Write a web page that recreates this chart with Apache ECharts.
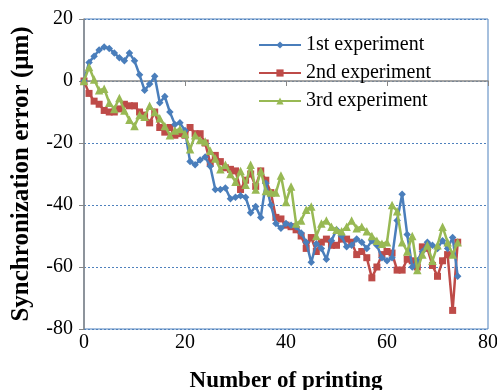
<!DOCTYPE html>
<html>
<head>
<meta charset="utf-8">
<script src="https://cdn.jsdelivr.net/npm/echarts@6/dist/echarts.min.js"></script>
<style>
  html, body { margin: 0; padding: 0; background: #fff; }
  #main { width: 497px; height: 390px; }
</style>
</head>
<body>
<div id="main"></div>
<script>
// printing number (x)
var printing = [0, 1, 2, 3, 4, 5, 6, 7, 8, 9, 10, 11, 12, 13, 14, 15, 16, 17, 18, 19,
  20, 21, 22, 23, 24, 25, 26, 27, 28, 29, 30, 31, 32, 33, 34, 35, 36, 37, 38, 39,
  40, 41, 42, 43, 44, 45, 46, 47, 48, 49, 50, 51, 52, 53, 54, 55, 56, 57, 58, 59,
  60, 61, 62, 63, 64, 65, 66, 67, 68, 69, 70, 71, 72, 73, 74]

// synchronization error (um)
var exp1 = [0, 6, 8, 10, 11, 10.5, 9, 7.5, 6.5, 9, 6.5, 2, -3, -1, 1.5, -7, -5, -10, -14, -13.5,
  -16, -26, -27, -25.5, -24.5, -27.5, -35, -35, -34.5, -38, -37.5, -37, -37.5, -42.5, -40.5, -44, -33, -40, -46, -47.5,
  -46, -46.5, -47, -49, -52, -58.5, -52.5, -54, -57.5, -51.5, -48, -50, -53.5, -53, -51, -52, -54, -51.5, -53, -57,
  -58, -57, -45, -36.5, -49.5, -60, -58, -55, -52, -53, -54, -51.5, -54, -50.5, -63]
var exp2 = [0, -4, -6.5, -7.5, -9.5, -10, -10, -9, -7.5, -8, -8, -10, -11, -13.5, -10, -15, -16.5, -15, -17.5, -17,
  -17.5, -15, -17, -17, -20, -26.5, -24, -26, -28, -28.5, -29, -35, -32, -30, -34, -29, -32, -36, -44, -44.5,
  -46.5, -47, -48, -50, -54, -50.5, -55, -52, -51, -53, -53, -51, -51, -52, -56, -55, -57, -63.5, -60, -56,
  -55, -55.5, -61, -61, -57.5, -58, -60, -53.5, -54, -59.5, -63, -58, -56, -74, -52]
var exp3 = [0, 4.5, 0.5, -3, -2.5, -7, -9, -5.5, -9.5, -12.5, -14.5, -11, -11.5, -8, -10, -12, -14.5, -17.5, -16, -15.5,
  -17, -22, -17.5, -19, -19.5, -22.5, -25, -28.5, -27, -30, -32.5, -29, -33.5, -27, -35, -29, -35.5, -36, -36, -30.5,
  -39, -34, -46, -45, -41.5, -40.5, -50, -46, -45, -47, -48, -48.5, -47, -45, -47.5, -47, -48.5, -50, -51.5, -52.5,
  -52, -40, -42, -52, -55, -50, -61, -56, -53, -58, -53, -47, -52, -56, -52]

var seriesNames = ['1st experiment', '2nd experiment', '3rd experiment']
var xTicks = [0, 20, 40, 60, 80]
var yTicks = [-80, -60, -40, -20, 0, 20]

function pairs(ys) {
  return printing.map(function (x, i) { return [x, ys[i]] })
}

var serif = '"Liberation Serif", "Times New Roman", serif'
var chart = echarts.init(document.getElementById('main'))

var option = {
  animation: false,
  grid: {
    left: 84, top: 19, right: 9, bottom: 61,
    outerBoundsMode: 'none',
    show: true,
    borderColor: '#4F81BD',
    borderWidth: 1
  },
  legend: {
    orient: 'vertical',
    left: 253,
    top: 30,
    itemWidth: 42,
    itemHeight: 9,
    itemGap: 8,
    textStyle: { fontFamily: serif, fontSize: 20, color: '#000' },
    data: seriesNames
  },
  xAxis: {
    type: 'value',
    min: xTicks[0],
    max: xTicks[xTicks.length - 1],
    interval: 20,
    name: 'Number of printing',
    nameLocation: 'middle',
    nameGap: 41,
    nameTextStyle: { fontFamily: serif, fontSize: 23, fontWeight: 'bold', color: '#000' },
    axisLine: { lineStyle: { color: '#868686', width: 1.5 } },
    axisTick: { show: true, length: 5, lineStyle: { color: '#868686' } },
    axisLabel: { fontFamily: serif, fontSize: 20, color: '#000', margin: 4 },
    splitLine: { show: false }
  },
  yAxis: {
    type: 'value',
    min: yTicks[0],
    max: yTicks[yTicks.length - 1],
    interval: 20,
    name: 'Synchronization error (μm)',
    nameLocation: 'middle',
    nameGap: 50,
    nameTextStyle: { fontFamily: serif, fontSize: 25, fontWeight: 'bold', color: '#000' },
    axisLine: { show: true, lineStyle: { color: '#868686', width: 1.5 } },
    axisTick: { show: true, length: 5, lineStyle: { color: '#868686' } },
    axisLabel: { fontFamily: serif, fontSize: 20, color: '#000', margin: 11 },
    splitLine: { show: true, lineStyle: { color: '#4F81BD', type: [2, 2], width: 1 } }
  },
  series: [
    {
      name: seriesNames[0],
      type: 'line',
      data: pairs(exp1),
      symbol: 'diamond',
      symbolSize: 7.5,
      itemStyle: { color: '#4A7EBB' },
      lineStyle: { color: '#4A7EBB', width: 2.5 },
      z: 4
    },
    {
      name: seriesNames[1],
      type: 'line',
      data: pairs(exp2),
      symbol: 'rect',
      symbolSize: 7,
      itemStyle: { color: '#BE4B48' },
      lineStyle: { color: '#BE4B48', width: 2.5 },
      z: 3
    },
    {
      name: seriesNames[2],
      type: 'line',
      data: pairs(exp3),
      symbol: 'triangle',
      symbolSize: 8.5,
      itemStyle: { color: '#98B954' },
      lineStyle: { color: '#98B954', width: 2.5 },
      z: 5
    }
  ]
}

chart.setOption(option)
</script>
</body>
</html>
